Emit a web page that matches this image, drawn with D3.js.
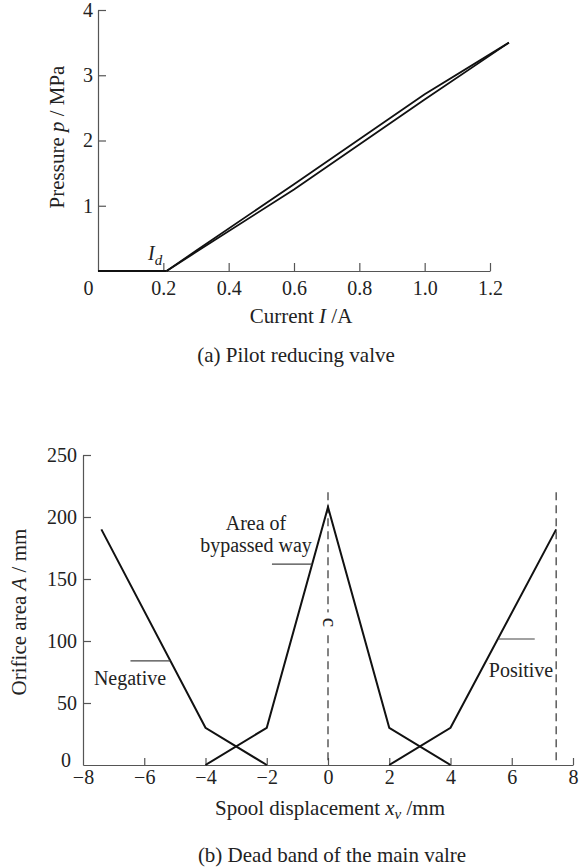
<!DOCTYPE html>
<html>
<head>
  <meta charset="utf-8">
  <title>Pilot reducing valve / dead band</title>
  <script src="https://d3js.org/d3.v7.min.js"></script>
  <style>
    body { margin: 0; background: #fff; }
    text { font-family: "Liberation Serif", "DejaVu Serif", serif; fill: #222; }
    .axis path, .axis line { stroke: #555; stroke-width: 1.2; }
    .axis text { font-size: 20px; font-family: "Liberation Serif", "DejaVu Serif", serif; fill: #222; }
  </style>
</head>
<body>
  <div id="chart"></div>

  <script>
    // (a) pilot reducing valve: current I (A) vs pressure p (MPa)
    var curTicks = [0, 0.2, 0.4, 0.6, 0.8, 1.0, 1.2];
    var curLabels = ["0", "0.2", "0.4", "0.6", "0.8", "1.0", "1.2"];
    var presTicks = [1, 2, 3, 4];
    var deadI = [0, 0.21];
    var deadP = [0, 0];
    var riseI = [0.21, 0.3, 0.6, 1.0, 1.258];
    var riseP = [0, 0.31, 1.33, 2.71, 3.5];
    var fallI = [0.21, 0.3, 0.6, 1.0, 1.258];
    var fallP = [0, 0.29, 1.25, 2.63, 3.5];

    // (b) dead band of the main valve: spool displacement vs orifice area
    var dispTicks = [-8, -6, -4, -2, 0, 2, 4, 6, 8];
    var areaTicks = [0, 50, 100, 150, 200, 250];
    var negX = [-7.4, -4, -2];
    var negA = [190, 30, 0];
    var bypassX = [-4, -2, 0, 2, 4];
    var bypassA = [0, 30, 208, 30, 0];
    var posX = [2, 4, 7.45];
    var posA = [0, 30, 190];
    var dashX = [0, 7.45];
    var dashTop = 220;

    var svg = d3.select("#chart")
      .append("svg")
      .attr("width", 581)
      .attr("height", 868);

    function zip(xs, ys) { return xs.map(function(x, i) { return [x, ys[i]]; }); }

    // ---------- top chart ----------
    var xTop = d3.scaleLinear().domain([0, 1.2]).range([98, 490]);
    var yTop = d3.scaleLinear().domain([0, 4]).range([271, 10]);

    var gx = svg.append("g")
      .attr("class", "axis")
      .attr("transform", "translate(0," + yTop(0) + ")")
      .call(d3.axisBottom(xTop).tickValues(curTicks)
        .tickFormat(function(d, i) { return curLabels[i]; })
        .tickSizeInner(-8).tickSizeOuter(0).tickPadding(10));
    gx.selectAll(".tick").filter(function(d) { return d === 0; })
      .select("text").attr("x", -10);
    gx.selectAll(".tick").filter(function(d) { return d === 0; })
      .select("line").remove();

    svg.append("g")
      .attr("class", "axis")
      .attr("transform", "translate(" + xTop(0) + ",0)")
      .call(d3.axisLeft(yTop).tickValues(presTicks).tickFormat(d3.format("d"))
        .tickSizeInner(-8).tickSizeOuter(0).tickPadding(5));

    var lineTop = d3.line()
      .x(function(d) { return xTop(d[0]); })
      .y(function(d) { return yTop(d[1]); });

    [zip(deadI, deadP), zip(riseI, riseP), zip(fallI, fallP)].forEach(function(s) {
      svg.append("path")
        .attr("d", lineTop(s))
        .attr("fill", "none")
        .attr("stroke", "#111")
        .attr("stroke-width", 1.8);
    });

    var idLabel = svg.append("text")
      .attr("x", xTop(0.175))
      .attr("y", yTop(0) - 11)
      .attr("text-anchor", "middle")
      .style("font-size", "20px")
      .style("font-style", "italic");
    idLabel.append("tspan").text("I");
    idLabel.append("tspan").attr("dy", 5).style("font-size", "15px").text("d");

    var xTitleTop = svg.append("text")
      .attr("x", 301).attr("y", 323)
      .attr("text-anchor", "middle")
      .style("font-size", "21px");
    xTitleTop.append("tspan").text("Current ");
    xTitleTop.append("tspan").style("font-style", "italic").text("I");
    xTitleTop.append("tspan").text(" /A");

    var yTitleTop = svg.append("text")
      .attr("transform", "translate(64,137) rotate(-90)")
      .attr("text-anchor", "middle")
      .style("font-size", "21px");
    yTitleTop.append("tspan").text("Pressure ");
    yTitleTop.append("tspan").style("font-style", "italic").text("p");
    yTitleTop.append("tspan").text(" / MPa");

    svg.append("text")
      .attr("x", 296).attr("y", 362)
      .attr("text-anchor", "middle")
      .style("font-size", "21px")
      .text("(a) Pilot reducing valve");

    // ---------- bottom chart ----------
    var xB = d3.scaleLinear().domain([-8, 8]).range([83, 573]);
    var yB = d3.scaleLinear().domain([0, 250]).range([765, 455]);

    var gxB = svg.append("g")
      .attr("class", "axis")
      .attr("transform", "translate(0," + yB(0) + ")")
      .call(d3.axisBottom(xB).tickValues(dispTicks)
        .tickSizeInner(-7).tickSizeOuter(0).tickPadding(5));
    gxB.selectAll(".tick").filter(function(d) { return d === -8; })
      .select("line").remove();

    var gyB = svg.append("g")
      .attr("class", "axis")
      .attr("transform", "translate(" + xB(-8) + ",0)")
      .call(d3.axisLeft(yB).tickValues(areaTicks)
        .tickSizeInner(-8).tickSizeOuter(0).tickPadding(6));
    var zeroTick = gyB.selectAll(".tick").filter(function(d) { return d === 0; });
    zeroTick.select("line").remove();
    zeroTick.select("text").attr("dy", "0.05em").attr("x", -12);

    // dashed reference lines
    dashX.forEach(function(x) {
      svg.append("line")
        .attr("x1", xB(x)).attr("x2", xB(x))
        .attr("y1", yB(dashTop)).attr("y2", yB(0))
        .attr("stroke", "#333")
        .attr("stroke-width", 1.2)
        .attr("stroke-dasharray", "8,5");
    });

    var lineB = d3.line()
      .x(function(d) { return xB(d[0]); })
      .y(function(d) { return yB(d[1]); });

    [zip(negX, negA), zip(bypassX, bypassA), zip(posX, posA)].forEach(function(s) {
      svg.append("path")
        .attr("d", lineB(s))
        .attr("fill", "none")
        .attr("stroke", "#111")
        .attr("stroke-width", 2);
    });

    // "c" on the centre line
    svg.append("rect")
      .attr("x", xB(0) - 6).attr("y", yB(115) - 10)
      .attr("width", 12).attr("height", 20)
      .attr("fill", "#fff");
    svg.append("text")
      .attr("transform", "translate(" + (xB(0) - 5) + "," + yB(115) + ") rotate(90)")
      .attr("text-anchor", "middle")
      .style("font-size", "21px")
      .text("c");

    // labels with leader lines
    var leaders = [
      { x1: -1.83, x2: -0.52, y: 162 },
      { x1: -6.45, x2: -5.15, y: 84 },
      { x1: 5.54, x2: 6.75, y: 101.6 }
    ];
    leaders.forEach(function(l) {
      svg.append("line")
        .attr("x1", xB(l.x1)).attr("x2", xB(l.x2))
        .attr("y1", yB(l.y)).attr("y2", yB(l.y))
        .attr("stroke", "#444").attr("stroke-width", 1.2);
    });

    svg.append("text").attr("x", 256).attr("y", 530).attr("text-anchor", "middle")
      .style("font-size", "20px").text("Area of");
    svg.append("text").attr("x", 256).attr("y", 552).attr("text-anchor", "middle")
      .style("font-size", "20px").text("bypassed way");
    svg.append("text").attr("x", 130).attr("y", 685).attr("text-anchor", "middle")
      .style("font-size", "20px").text("Negative");
    svg.append("text").attr("x", 521).attr("y", 677).attr("text-anchor", "middle")
      .style("font-size", "20px").text("Positive");

    var xTitleB = svg.append("text")
      .attr("x", 330).attr("y", 815)
      .attr("text-anchor", "middle")
      .style("font-size", "21px");
    xTitleB.append("tspan").text("Spool displacement ");
    xTitleB.append("tspan").style("font-style", "italic").text("x");
    xTitleB.append("tspan").attr("dy", 4).style("font-style", "italic").style("font-size", "15px").text("v");
    xTitleB.append("tspan").attr("dy", -4).text(" /mm");

    var yTitleB = svg.append("text")
      .attr("transform", "translate(26,612) rotate(-90)")
      .attr("text-anchor", "middle")
      .style("font-size", "21px");
    yTitleB.append("tspan").text("Orifice area ");
    yTitleB.append("tspan").style("font-style", "italic").text("A");
    yTitleB.append("tspan").text(" / mm");

    svg.append("text")
      .attr("x", 332).attr("y", 862)
      .attr("text-anchor", "middle")
      .style("font-size", "21px")
      .text("(b) Dead band of the main valre");
  </script>
</body>
</html>
